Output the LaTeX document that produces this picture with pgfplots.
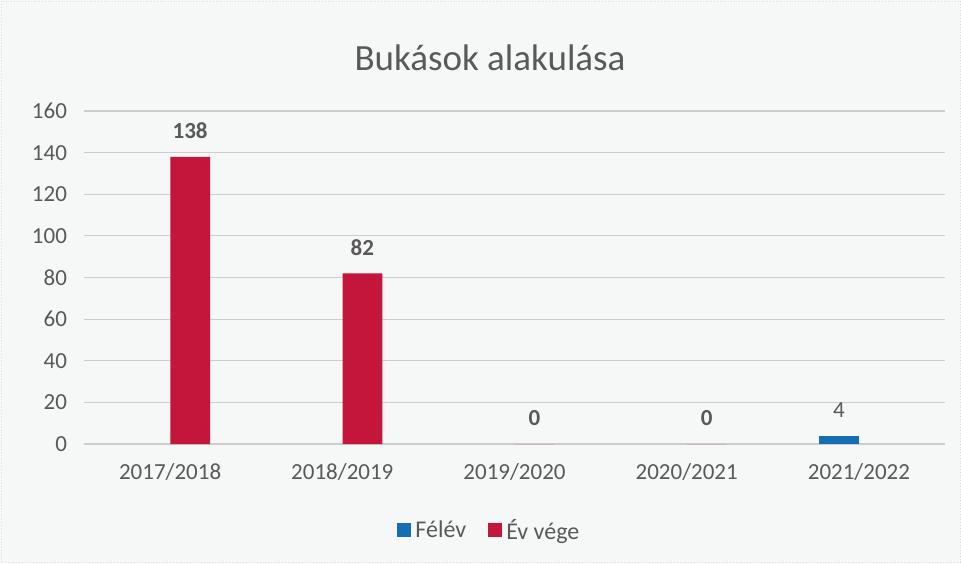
\documentclass[border=0pt]{standalone}
\usepackage{fontspec}
\setmainfont{Carlito}
\usepackage{pgfplots}
\pgfplotsset{compat=1.18}
\definecolor{txtgray}{RGB}{89,89,89}
\definecolor{gridgray}{RGB}{205,205,205}
\definecolor{felev}{RGB}{20,110,180}
\definecolor{evvege}{RGB}{196,22,58}
\definecolor{bg}{RGB}{246,247,247}

\begin{document}
\begin{tikzpicture}[x=0.5pt,y=0.5pt]
\fill[bg] (0,0) rectangle (961,563);
\draw[gridgray!70, densely dotted] (1,1) rectangle (960,562);
\node[txtgray, font=\fontsize{18.5}{20}\selectfont] at (490,505) {Bukások alakulása};
\begin{axis}[
    at={(42pt,59.5pt)}, anchor=south west,
    scale only axis,
    width=430.5pt, height=166.5pt,
    xmin=-0.5, xmax=4.5,
    ymin=0, ymax=160,
    ytick={0,20,...,160},
    xtick={0,1,2,3,4},
    xticklabels={2017/2018,2018/2019,2019/2020,2020/2021,2021/2022},
    ymajorgrids,
    grid style={gridgray, line width=0.6pt},
    axis line style={draw=none},
    major tick length=0pt,
    tick label style={txtgray, font=\fontsize{11.5}{13}\selectfont},
    /pgf/number format/assume math mode=true,
    yticklabel style={xshift=-5pt},
    xticklabel style={yshift=-6pt},
    legend style={at={(0.472,-0.26)}, anchor=center, draw=none, fill=none,
        legend columns=2, font=\fontsize{12}{14}\selectfont, text=txtgray,
        /tikz/every even column/.append style={column sep=9pt}},
    legend image code/.code={\fill[#1] (0pt,-3pt) rectangle (7pt,4pt);},
    clip=false,
]
\addplot[ybar, bar width=0.23, bar shift=-0.117, fill=felev, draw=none,
    nodes near coords, every node near coord/.append style={txtgray, font=\fontsize{11.5}{13}\selectfont, yshift=5.5pt, xshift=-10pt}]
    coordinates {(4,4)};
\addlegendentry{Félév}
\addplot[ybar, bar width=0.23, bar shift=0.117, fill=evvege, draw=none,
    nodes near coords, every node near coord/.append style={txtgray, font=\bfseries\fontsize{11.5}{13}\selectfont, yshift=5.5pt, xshift=10pt}]
    coordinates {(0,138) (1,82) (2,0) (3,0)};
\addlegendentry{Év vége}
\end{axis}
\end{tikzpicture}
\end{document}
